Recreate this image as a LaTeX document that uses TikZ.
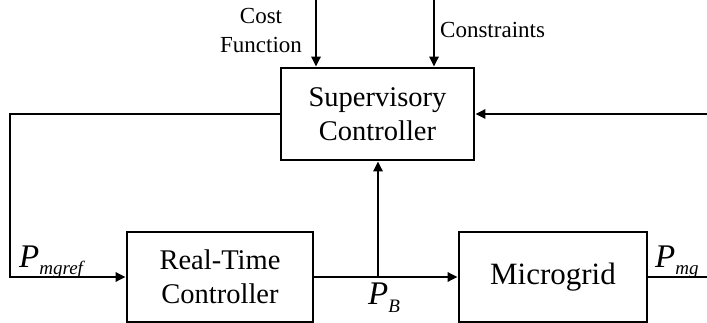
\documentclass[tikz,border=0pt]{standalone}
\usepackage{fontspec}
\setmainfont{Liberation Serif}
\usetikzlibrary{arrows.meta}
\tikzset{
  blk/.style={draw, line width=2.6pt, inner sep=0pt, align=center},
  conn/.style={line width=2.5pt},
  arr/.style={conn, -{Triangle[length=10pt,width=9pt]}},
  boxfont/.style={font=\fontsize{28.5}{34}\selectfont},
  smallfont/.style={font=\fontsize{23}{29}\selectfont},
  lab/.style={inner sep=0pt}
}
\newcommand{\sigP}[1]{\fontsize{33}{33}\selectfont\textit{P}\raisebox{-0.5ex}{\fontsize{19}{19}\selectfont\textit{#1}}}
\begin{document}
\begin{tikzpicture}[x=1pt,y=-1pt]
\useasboundingbox (0,0) rectangle (707,323);
\clip (0,0) rectangle (707,323);
% blocks
\node[blk, boxfont, minimum width=193pt, minimum height=92pt] (sup) at (377.5,114) {Supervisory\\Controller};
\node[blk, boxfont, minimum width=186pt, minimum height=90pt] (rt) at (220,277) {Real-Time\\Controller};
\node[blk, minimum width=188pt, minimum height=90pt, font=\fontsize{31}{36}\selectfont] (mg) at (553,277) {Microgrid};
% free ends
\coordinate (costin) at (316,0);
\coordinate (consin) at (434,0);
\coordinate (lc1) at (10,114);
\coordinate (lc2) at (10,277);
\coordinate (rin) at (720,114);
\coordinate (rout) at (720,277);
\coordinate (pb) at (378,277);
% connectors
\draw[arr] (costin) -- (costin |- sup.north);
\draw[arr] (consin) -- (consin |- sup.north);
\draw[arr] (sup.west) -- (lc1) -- (lc2) -- (rt.west);
\draw[arr] (rin) -- (sup.east);
\draw[arr] (rt.east) -- (mg.west);
\draw[arr] (pb) -- (pb |- sup.south);
\draw[conn] (mg.east) -- (rout);
% labels
\node[lab, smallfont, align=center] (cost) at (261,31) {Cost\\Function};
\node[lab, smallfont, anchor=west] (cons) at (440,30) {Constraints};
\node[lab, anchor=base west] (pmgref) at (19,267) {\sigP{mgref}};
\node[lab, anchor=base west] (pbl) at (368,305) {\sigP{B}};
\node[lab, anchor=base west] (pmg) at (655,267) {\sigP{mg}};
\end{tikzpicture}
\end{document}
